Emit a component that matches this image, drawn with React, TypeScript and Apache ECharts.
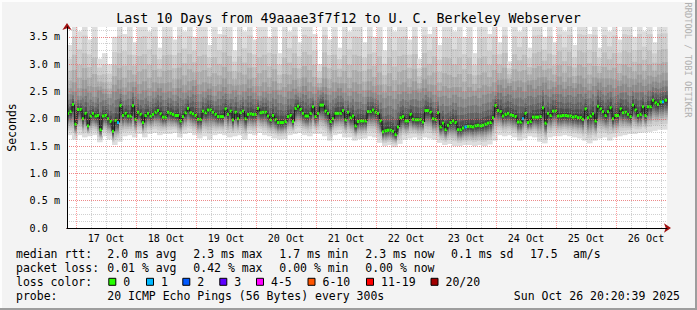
import React, { useEffect, useRef } from 'react';
import * as echarts from 'echarts';

const FONT = 'DejaVu Sans Mono';
const chartTitle = 'Last 10 Days from 49aaae3f7f12 to U. C. Berkeley Webserver';
const yAxisName = 'Seconds';
const watermark = 'RRDTOOL / TOBI OETIKER';
const dayLabels = ['17 Oct', '18 Oct', '19 Oct', '20 Oct', '21 Oct', '22 Oct', '23 Oct', '24 Oct', '25 Oct', '26 Oct'];

// hourly median rtt (ms), 240 hours from Oct 16 20:24
const medianRtt = [
  2.1, 2.13, 2.26, 1.9, 2.17, 2.17, 2.0, 2.1, 1.87, 2.05,
  2.1, 2.05, 2.06, 1.8, 2.05, 2.06, 2.0, 1.95, 1.77, 1.97,
  1.93, 2.24, 2.06, 2.1, 2.05, 2.05, 2.24, 1.99, 2.12, 2.08,
  1.93, 2.06, 2.1, 2.05, 2.08, 2.12, 2.15, 2.09, 2.03, 2.03,
  2.12, 2.1, 2.08, 2.06, 2.06, 1.96, 2.04, 2.11, 2.19, 2.11,
  2.09, 2.06, 1.99, 1.99, 2.14, 2.11, 2.16, 2.16, 2.12, 2.08,
  2.04, 2.04, 2.04, 2.18, 2.08, 2.14, 1.98, 2.12, 2.0, 2.11,
  2.14, 2.0, 2.08, 2.09, 2.08, 2.08, 2.19, 2.11, 2.12, 2.12,
  2.05, 1.98, 2.06, 1.98, 1.93, 1.93, 1.93, 1.95, 2.04, 2.06,
  1.95, 2.19, 2.23, 2.17, 2.1, 2.05, 2.05, 2.1, 2.22, 2.04,
  2.1, 2.25, 2.25, 2.14, 2.1, 1.95, 2.0, 2.1, 2.1, 2.1,
  2.15, 1.98, 2.12, 2.02, 2.05, 1.87, 1.95, 1.96, 1.96, 1.96,
  2.13, 2.13, 2.16, 2.12, 2.1, 1.96, 1.76, 1.78, 1.79, 1.79,
  1.77, 1.71, 1.85, 2.02, 2.04, 1.96, 1.96, 2.08, 1.99, 1.98,
  1.98, 1.98, 1.94, 2.15, 2.15, 2.12, 2.0, 1.99, 2.11, 1.85,
  1.92, 1.8, 1.88, 1.93, 1.96, 1.93, 1.8, 1.8, 1.83, 1.85,
  1.86, 1.86, 1.85, 1.87, 1.88, 1.87, 1.88, 1.9, 1.92, 1.93,
  2.02, 2.24, 2.15, 2.13, 2.05, 2.08, 2.1, 2.07, 2.06, 2.04,
  1.94, 1.94, 2.0, 2.1, 1.93, 1.95, 2.03, 2.03, 2.03, 2.04,
  2.2, 1.92, 2.1, 2.06, 2.14, 2.14, 2.05, 2.05, 2.06, 2.06,
  2.05, 2.05, 2.03, 2.04, 2.02, 2.02, 1.99, 2.18, 2.02, 2.05,
  2.09, 1.96, 2.23, 2.18, 2.13, 2.06, 2.13, 2.2, 2.0, 2.06,
  2.06, 2.18, 2.11, 2.12, 2.08, 2.04, 2.25, 2.16, 2.06, 2.08,
  2.22, 2.06, 2.22, 2.22, 2.34, 2.29, 2.26, 2.31, 2.31, 2.34,
];

// smoke per 2-hour slot: lowest ping, top of the mid band, highest ping (ms)
const smokeLow = [
  1.70, 1.62, 1.70, 1.66, 1.68, 1.70, 1.57, 1.68, 1.62, 1.52,
  1.58, 1.68, 1.70, 1.66, 1.72, 1.66, 1.72, 1.74, 1.70, 1.72,
  1.72, 1.74, 1.66, 1.72, 1.74, 1.70, 1.64, 1.68, 1.62, 1.70,
  1.72, 1.70, 1.66, 1.68, 1.70, 1.62, 1.72, 1.70, 1.74, 1.70,
  1.68, 1.64, 1.62, 1.63, 1.70, 1.72, 1.74, 1.70, 1.68, 1.72,
  1.72, 1.68, 1.60, 1.70, 1.72, 1.66, 1.66, 1.60, 1.63, 1.64,
  1.68, 1.66, 1.56, 1.50, 1.52, 1.48, 1.54, 1.62, 1.64, 1.66,
  1.62, 1.66, 1.64, 1.62, 1.56, 1.52, 1.54, 1.50, 1.50, 1.52,
  1.52, 1.50, 1.52, 1.50, 1.53, 1.60, 1.70, 1.68, 1.70, 1.66,
  1.60, 1.64, 1.68, 1.66, 1.58, 1.55, 1.66, 1.68, 1.68, 1.70,
  1.68, 1.66, 1.64, 1.60, 1.55, 1.60, 1.64, 1.66, 1.60, 1.66,
  1.68, 1.70, 1.72, 1.72, 1.74, 1.75, 1.76, 1.78, 1.80, 1.80,
];
const smokeMid = [
  2.45, 2.5, 2.42, 2.55, 2.48, 2.4, 2.52, 2.46, 2.38, 2.5,
  2.55, 2.44, 2.5, 2.58, 2.46, 2.52, 2.42, 2.5, 2.56, 2.48,
  2.5, 2.44, 2.56, 2.48, 2.52, 2.6, 2.45, 2.5, 2.55, 2.42,
  2.5, 2.58, 2.46, 2.52, 2.44, 2.5, 2.56, 2.48, 2.42, 2.5,
  2.46, 2.52, 2.44, 2.4, 2.5, 2.55, 2.48, 2.6, 2.5, 2.46,
  2.52, 2.58, 2.44, 2.5, 2.56, 2.48, 2.42, 2.5, 2.46, 2.4,
  2.52, 2.48, 2.44, 2.38, 2.42, 2.36, 2.45, 2.5, 2.46, 2.52,
  2.48, 2.56, 2.5, 2.44, 2.4, 2.42, 2.38, 2.44, 2.4, 2.36,
  2.4, 2.42, 2.38, 2.44, 2.46, 2.5, 2.62, 2.56, 2.6, 2.52,
  2.58, 2.5, 2.62, 2.55, 2.6, 2.66, 2.54, 2.58, 2.62, 2.55,
  2.6, 2.56, 2.64, 2.58, 2.52, 2.6, 2.66, 2.58, 2.62, 2.56,
  2.6, 2.64, 2.58, 2.62, 2.66, 2.6, 2.64, 2.68, 2.66, 2.7,
];
const smokeHigh = [
  3.35, 3.9, 3.6, 3.9, 3.45, 3.9, 3.1, 3.2, 3.0, 3.5,
  3.9, 3.55, 3.9, 3.4, 3.9, 3.9, 3.6, 3.9, 3.3, 3.9,
  3.9, 3.45, 3.9, 3.6, 3.9, 3.5, 3.9, 3.9, 3.35, 3.9,
  3.55, 3.9, 3.9, 3.25, 3.9, 3.6, 3.9, 3.45, 3.9, 3.9,
  3.5, 3.9, 3.2, 3.9, 3.6, 3.9, 3.4, 3.9, 3.9, 3.55,
  3.0, 3.9, 3.45, 3.9, 3.3, 3.9, 3.6, 3.9, 3.9, 3.4,
  3.9, 3.5, 3.9, 3.25, 3.9, 3.6, 3.9, 3.9, 3.45, 3.9,
  3.1, 3.9, 3.55, 3.9, 3.35, 3.9, 3.9, 3.6, 3.9, 3.5,
  3.9, 3.2, 3.9, 3.9, 3.55, 3.9, 3.4, 3.9, 3.05, 3.9,
  3.6, 3.9, 3.3, 3.9, 3.9, 3.5, 3.9, 3.4, 3.9, 3.6,
  3.9, 3.35, 3.9, 3.9, 3.55, 3.9, 3.3, 3.9, 3.6, 3.9,
  3.45, 3.9, 3.9, 3.5, 3.9, 3.6, 3.9, 3.4, 3.9, 3.9,
];

// hours with lost pings and how many were lost
const lossHours = [20, 159, 182, 238];
const lossCounts = [1, 1, 1, 1];

const lossLabels = ['0', '1', '2', '3', '4-5', '6-10', '11-19', '20/20'];
const lossColors = ['#26ff00', '#00b8ff', '#0059ff', '#5e00ff', '#ff00ff', '#ff5500', '#ff0000', '#a10000'];
const rttStats = ['2.0 ms avg', '2.3 ms max', '1.7 ms min', '2.3 ms now', '0.1 ms sd', '17.5', 'am/s'];
const lossStats = ['0.01 % avg', '0.42 % max', '0.00 % min', '0.00 % now'];
const probeText = '20 ICMP Echo Pings (56 Bytes) every 300s';
const stampText = 'Sun Oct 26 20:20:39 2025';

// ---- layout / style constants ----
const W = 697;
const H = 310;
const X_MAX = 240;
const Y_MAX = 3.68;
const MAJOR = 'rgba(255,90,90,0.6)';
const MINOR = 'rgba(150,150,150,0.45)';
const ARROW = '#a01010';
const DOT = [1, 1];
const SMOKE_GRAYS = ['#dddddd', '#cdcdcd', '#bdbdbd', '#acacac', '#9b9b9b', '#8a8a8a', '#767676', '#626262', '#4e4e4e', '#3a3a3a'];
const LOW_FRAC = [1, 0.8, 0.68, 0.58, 0.5, 0.43, 0.36, 0.28, 0.19, 0.1];
const UP_FRAC = [1, 0.72, 0.48, 0.28, 0.12];
const IN_FRAC = [1, 0.7, 0.45, 0.25, 0.1];

function lossIndex(count: number) {
  if (count <= 0) return 0;
  if (count <= 3) return count;
  if (count <= 5) return 4;
  if (count <= 10) return 5;
  if (count <= 19) return 6;
  return 7;
}

function buildOption() {
  const cats = Array.from({ length: 201 }, (_, i) => {
    const k = (i - 13) / 20;
    return Number.isInteger(k) && k >= 0 && k < dayLabels.length ? dayLabels[k] : '';
  });

  const data = medianRtt.map((m, c) => {
    const li = lossHours.indexOf(c);
    const loss = li >= 0 ? lossIndex(lossCounts[li]) : 0;
    const slot = c >> 1;
    return [c, m, smokeLow[slot], smokeMid[slot], smokeHigh[slot], loss, c > 0 ? medianRtt[c - 1] : m];
  });

  const renderItem = (params: any, api: any) => {
    const c = api.value(0);
    const med = api.value(1);
    const lo = api.value(2);
    const q = api.value(3);
    const hi = api.value(4);
    const loss = api.value(5);
    const prev = api.value(6);
    const xL = api.coord([c, 0])[0];
    const xR = api.coord([c + 1, 0])[0];
    const w = xR - xL;
    const Y = (v: number) => api.coord([c, Math.min(v, Y_MAX)])[1];
    const children: any[] = [];
    for (let j = 0; j < 10; j++) {
      const lowV = med - (med - lo) * LOW_FRAC[j];
      const upV = j < 5 ? q + (hi - q) * UP_FRAC[j] : med + (q - med) * IN_FRAC[j - 5];
      const yT = Y(upV);
      const yB = Y(lowV);
      children.push({
        type: 'rect',
        shape: { x: xL, y: yT, width: w + 0.6, height: yB - yT },
        style: { fill: SMOKE_GRAYS[j] },
      });
    }
    const yM = Y(med);
    children.push({
      type: 'line',
      shape: { x1: xL, y1: Y(prev), x2: xL, y2: yM },
      style: { stroke: '#1e1e1e', lineWidth: 1.2 },
    });
    children.push({
      type: 'rect',
      shape: { x: xL, y: yM - 1.5, width: w, height: 3 },
      style: { fill: lossColors[loss] },
    });
    return { type: 'group', children };
  };

  const yFmt = (v: number) => {
    const r = Math.round(v / 0.5) * 0.5;
    if (Math.abs(v - r) > 1e-6) return '';
    return v === 0 ? '0.0\u00a0\u00a0' : v.toFixed(1) + '\u00a0m';
  };

  const txt = (text: string, x: number, y: number, extra: any = {}) => ({
    type: 'text',
    x,
    y,
    z: 10,
    silent: true,
    ...extra,
    style: {
      text,
      fill: '#000',
      fontFamily: FONT,
      fontSize: 11.5,
      align: 'left',
      verticalAlign: 'middle',
      ...(extra.style || {}),
    },
  });

  const rttX = [107.3, 193.3, 279.3, 365.3, 451, 530, 573];
  const lossX = [107.3, 193.3, 279.3, 365.3];
  const boxX = [108.3, 146, 182.3, 219.3, 256, 307.5, 366, 430.5];
  const rowY = [254.3, 268.3, 282.3, 296.3];

  const graphic: any[] = [
    { type: 'rect', shape: { x: 0, y: 0, width: W, height: 2 }, style: { fill: '#fdfdfd' }, silent: true },
    { type: 'rect', shape: { x: 0, y: 0, width: 2, height: H }, style: { fill: '#fdfdfd' }, silent: true },
    { type: 'rect', shape: { x: 0, y: H - 2, width: W, height: 2 }, style: { fill: '#9d9d9d' }, silent: true },
    { type: 'rect', shape: { x: W - 2, y: 0, width: 2, height: H }, style: { fill: '#9d9d9d' }, silent: true },
    txt(chartTitle, 348.5, 18.6, { style: { fontSize: 13.3, align: 'center' } }),
    txt(yAxisName, 11.5, 127.5, { rotation: Math.PI / 2, style: { align: 'center' } }),
    txt(watermark, 688, 60, { rotation: -Math.PI / 2, style: { align: 'center', fontSize: 8.7, fill: '#b0b0b0' } }),
    txt('median rtt:', 16, rowY[0]),
    ...rttStats.map((s, i) => txt(s, rttX[i], rowY[0])),
    txt('packet loss:', 16, rowY[1]),
    ...lossStats.map((s, i) => txt(s, lossX[i], rowY[1])),
    txt('loss color:', 16, rowY[2]),
    ...lossLabels.map((s, i) => ({
      type: 'rect',
      z: 10,
      silent: true,
      shape: { x: boxX[i] + 0.5, y: rowY[2] - 4, width: 7, height: 7 },
      style: { fill: lossColors[i], stroke: '#000', lineWidth: 1 },
    })),
    ...lossLabels.map((s, i) => txt(s, boxX[i] + 15, rowY[2])),
    txt('probe:', 16, rowY[3]),
    txt(probeText, 107.3, rowY[3]),
    txt(stampText, 680, rowY[3], { style: { align: 'right' } }),
  ];

  return {
    animation: false,
    backgroundColor: '#f3f3f3',
    textStyle: { fontFamily: FONT },
    grid: {
      left: 67,
      top: 27,
      width: 600,
      height: 201,
      show: true,
      backgroundColor: '#ffffff',
      borderWidth: 0,
      containLabel: false,
      outerBoundsMode: 'none',
    },
    xAxis: [
      { type: 'value', min: 0, max: X_MAX, show: false },
      {
        type: 'category',
        data: cats,
        boundaryGap: false,
        position: 'bottom',
        z: 6,
        axisLine: { show: true, onZero: false, lineStyle: { color: '#000', width: 1 } },
        axisTick: { show: false },
        axisLabel: {
          interval: (i: number) => (i - 13) % 20 === 0,
          color: '#000',
          fontFamily: FONT,
          fontSize: 10.1,
          margin: 5,
        },
        splitLine: {
          show: true,
          interval: (i: number) => i > 0 && (i - 3) % 20 === 0,
          lineStyle: { color: MAJOR, type: DOT, width: 1 },
        },
      },
      {
        type: 'category',
        data: cats,
        boundaryGap: false,
        position: 'bottom',
        z: 5,
        axisLine: { show: false },
        axisTick: { show: false },
        axisLabel: { show: false },
        splitLine: {
          show: true,
          interval: (i: number) => i > 0 && (i - 3) % 5 === 0 && (i - 3) % 20 !== 0,
          lineStyle: { color: MINOR, type: DOT, width: 1 },
        },
      },
      {
        type: 'value',
        min: 0,
        max: X_MAX,
        position: 'bottom',
        z: 4,
        axisLine: {
          show: true,
          onZero: false,
          symbol: ['none', 'arrow'],
          symbolSize: [7, 7],
          symbolOffset: [0, 4],
          lineStyle: { color: ARROW },
        },
        axisTick: { show: false },
        axisLabel: { show: false },
        splitLine: { show: false },
      },
    ],
    yAxis: [
      {
        type: 'value',
        min: 0,
        max: Y_MAX,
        interval: 0.5,
        position: 'left',
        z: 6,
        axisLine: { show: true, onZero: false, lineStyle: { color: '#000', width: 1 } },
        axisTick: { show: false },
        axisLabel: { color: '#000', fontFamily: FONT, fontSize: 10.1, margin: 7, formatter: yFmt },
        splitLine: { show: true, showMaxLine: false, showMinLine: false, lineStyle: { color: MAJOR, type: DOT, width: 1 } },
      },
      {
        type: 'value',
        min: 0,
        max: Y_MAX,
        interval: 0.125,
        position: 'left',
        z: 5,
        axisLine: { show: false },
        axisTick: { show: false },
        axisLabel: { show: false },
        splitLine: { show: true, showMaxLine: false, showMinLine: false, lineStyle: { color: MINOR, type: DOT, width: 1 } },
      },
      {
        type: 'value',
        min: 0,
        max: Y_MAX,
        position: 'left',
        z: 4,
        axisLine: {
          show: true,
          onZero: false,
          symbol: ['none', 'arrow'],
          symbolSize: [7, 7],
          symbolOffset: [0, 4],
          lineStyle: { color: ARROW },
        },
        axisTick: { show: false },
        axisLabel: { show: false },
        splitLine: { show: false },
      },
    ],
    series: [
      {
        type: 'custom',
        xAxisIndex: 0,
        yAxisIndex: 0,
        silent: true,
        z: 2,
        encode: { x: 0, y: 1 },
        renderItem,
        data,
      },
    ],
    graphic,
  };
}

export default function App() {
  const ref = useRef<HTMLDivElement>(null);
  useEffect(() => {
    const el = ref.current;
    if (!el) return;
    const chart = echarts.init(el, undefined, { renderer: 'svg' });
    chart.setOption(buildOption() as any);
    return () => chart.dispose();
  }, []);
  return <div ref={ref} style={{ position: 'absolute', left: 0, top: 0, width: W, height: H }} />;
}
